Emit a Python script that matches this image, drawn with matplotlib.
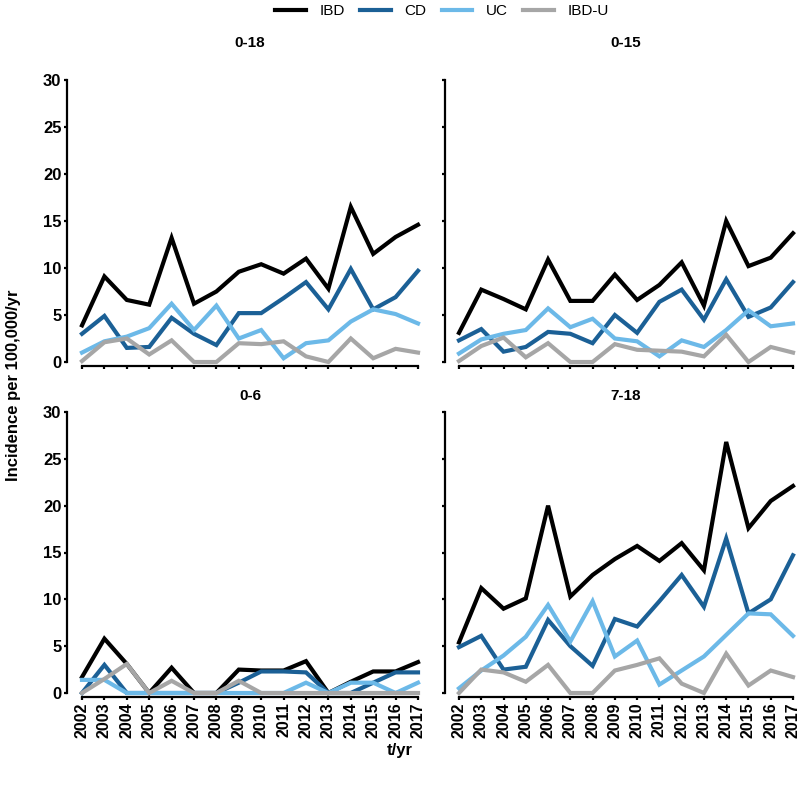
import matplotlib
matplotlib.use('Agg')
import matplotlib.pyplot as plt
from matplotlib.lines import Line2D

plt.rcParams['font.family'] = ['Liberation Sans', 'DejaVu Sans']

years = list(range(2002, 2018))
series_names = ['IBD', 'CD', 'UC', 'IBD-U']
colors = {'IBD': '#000000', 'CD': '#1b6096', 'UC': '#6cb9e8', 'IBD-U': '#a6a6a6'}

# incidence per 100,000/yr
age_0_18 = {
    'IBD':   [3.9, 9.1, 6.6, 6.1, 13.2, 6.2, 7.5, 9.6, 10.4, 9.4, 11.0, 7.8, 16.5, 11.5, 13.3, 14.6],
    'CD':    [3.0, 4.9, 1.5, 1.6, 4.7, 3.0, 1.8, 5.2, 5.2, 6.8, 8.5, 5.6, 9.9, 5.6, 6.9, 9.7],
    'UC':    [1.0, 2.2, 2.7, 3.6, 6.2, 3.4, 6.0, 2.5, 3.4, 0.4, 2.0, 2.3, 4.3, 5.6, 5.1, 4.1],
    'IBD-U': [0.1, 2.1, 2.5, 0.8, 2.3, 0.0, 0.0, 2.0, 1.9, 2.2, 0.6, 0.0, 2.5, 0.4, 1.4, 1.0],
}
age_0_15 = {
    'IBD':   [3.1, 7.7, 6.7, 5.6, 10.9, 6.5, 6.5, 9.3, 6.6, 8.2, 10.6, 6.0, 15.0, 10.2, 11.1, 13.7],
    'CD':    [2.3, 3.5, 1.1, 1.6, 3.2, 3.0, 2.0, 5.0, 3.1, 6.4, 7.7, 4.5, 8.8, 4.8, 5.8, 8.5],
    'UC':    [0.9, 2.4, 3.0, 3.4, 5.7, 3.7, 4.6, 2.5, 2.2, 0.6, 2.3, 1.6, 3.4, 5.5, 3.8, 4.1],
    'IBD-U': [0.1, 1.7, 2.6, 0.5, 2.0, 0.0, 0.0, 1.9, 1.3, 1.2, 1.1, 0.6, 2.9, 0.0, 1.6, 1.0],
}
age_0_6 = {
    'IBD':   [1.7, 5.8, 3.1, 0.0, 2.7, 0.0, 0.0, 2.5, 2.4, 2.4, 3.4, 0.0, 1.2, 2.3, 2.3, 3.3],
    'CD':    [0.0, 3.0, 0.0, 0.0, 0.0, 0.0, 0.0, 1.1, 2.3, 2.3, 2.2, 0.0, 0.0, 1.1, 2.2, 2.2],
    'UC':    [1.4, 1.4, 0.0, 0.0, 0.0, 0.0, 0.0, 0.0, 0.0, 0.0, 1.1, 0.0, 1.1, 1.1, 0.0, 1.1],
    'IBD-U': [0.0, 1.5, 3.1, 0.0, 1.3, 0.0, 0.0, 1.3, 0.0, 0.0, 0.0, 0.0, 0.0, 0.0, 0.0, 0.0],
}
age_7_18 = {
    'IBD':   [5.4, 11.2, 9.0, 10.1, 20.0, 10.3, 12.6, 14.3, 15.7, 14.1, 16.0, 13.1, 26.8, 17.6, 20.5, 22.1],
    'CD':    [4.9, 6.1, 2.5, 2.8, 7.8, 5.0, 2.9, 7.9, 7.1, 9.8, 12.6, 9.2, 16.5, 8.5, 10.0, 14.7],
    'UC':    [0.5, 2.4, 4.0, 6.0, 9.4, 5.5, 9.8, 3.9, 5.6, 0.9, 2.4, 3.9, 6.2, 8.5, 8.4, 6.1],
    'IBD-U': [0.0, 2.5, 2.2, 1.2, 3.0, 0.0, 0.0, 2.4, 3.0, 3.7, 1.0, 0.0, 4.2, 0.8, 2.4, 1.7],
}

panels = [
    ('0-18', age_0_18, [82, 80, 418, 362], 24, False, 15),
    ('0-15', age_0_15, [459, 80, 793, 362], 24, False, 14),
    ('0-6', age_0_6, [82, 412, 418, 693], 9, True, 15),
    ('7-18', age_7_18, [459, 412, 793, 693], 9, True, 14),
]

W, H = 800, 785
fig = plt.figure(figsize=(8, 7.85), dpi=100)

for title, data, (x0, y0, x1, y1), pad, show_x, yoff in panels:
    ax = fig.add_axes([x0 / W, 1 - y1 / H, (x1 - x0) / W, (y1 - y0) / H])
    for name in series_names:
        ax.plot(years, data[name], color=colors[name], linewidth=3.0,
                clip_on=False, solid_joinstyle='miter', zorder=3)
    ax.set_xlim(2002, 2017)
    ax.set_ylim(0, 30)
    ax.set_yticks([0, 5, 10, 15, 20, 25, 30])
    ax.set_xticks(years)
    for s in ['top', 'right']:
        ax.spines[s].set_visible(False)
    ax.spines['left'].set_position(('outward', yoff * 0.72))
    ax.spines['bottom'].set_position(('outward', 4 * 0.72))
    ax.spines['left'].set_bounds(0, 30)
    ax.spines['bottom'].set_bounds(2002, 2017)
    for s in ['left', 'bottom']:
        ax.spines[s].set_linewidth(1.6)
    ax.tick_params(axis='both', direction='out', length=2.5, width=1.6, pad=1.5)
    if x0 < 400:
        ax.set_yticklabels([str(v) for v in [0, 5, 10, 15, 20, 25, 30]],
                           fontsize=12, fontweight='bold')
    else:
        ax.set_yticklabels([])
    if show_x:
        ax.set_xticklabels([str(y) for y in years], rotation=90,
                           fontsize=11.5, fontweight='bold')
    else:
        ax.set_xticklabels([])
    ax.set_title(title, fontsize=11, fontweight='bold', pad=pad)

handles = [Line2D([], [], color=colors[n], linewidth=3.0) for n in series_names]
fig.legend(handles, series_names, loc='center', bbox_to_anchor=(442 / W, 1 - 11 / H),
           ncol=4, frameon=False, fontsize=11, handlelength=2.0,
           columnspacing=1.0, handletextpad=0.9)

fig.text(14 / W, 1 - 385 / H, 'Incidence per 100,000/yr', rotation=90,
         ha='center', va='center', fontsize=12, fontweight='bold')
fig.text(400 / W, 1 - 750 / H, 't/yr', ha='center', va='center',
         fontsize=12, fontweight='bold')

fig.savefig('out.png', dpi=100)
